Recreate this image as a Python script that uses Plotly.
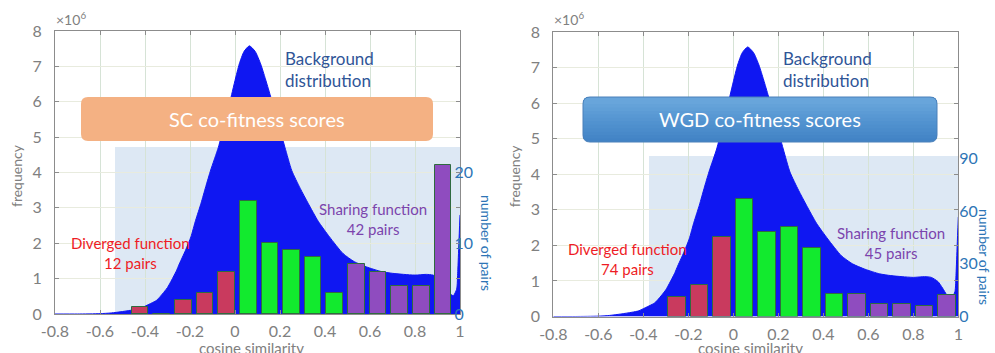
import plotly.graph_objects as go

W, H = 995, 353
FONT = "Lato"

# ---------------- data ----------------
# background distribution of cosine similarity (frequency, x10^6)
bg_x = [-0.80, -0.70, -0.60, -0.55, -0.50, -0.45, -0.42, -0.40, -0.35, -0.333, -0.30,
        -0.259, -0.25, -0.22, -0.196, -0.175, -0.151, -0.13, -0.108, -0.074, -0.05,
        -0.03, -0.015, 0.0, 0.019, 0.04, 0.064, 0.09, 0.114, 0.135, 0.156, 0.19,
        0.222, 0.252, 0.29, 0.325, 0.37, 0.42, 0.48, 0.53, 0.585, 0.65, 0.70, 0.75,
        0.80, 0.85, 0.88, 0.91, 0.93, 0.95, 0.97, 0.985, 0.99, 0.995, 1.0]
bg_y = [0.0, 0.0, 0.01, 0.03, 0.07, 0.12, 0.16, 0.22, 0.38, 0.49, 0.75,
        1.24, 1.38, 1.80, 2.18, 2.65, 3.13, 3.60, 4.07, 4.71, 5.30,
        5.80, 6.20, 6.60, 7.07, 7.42, 7.58, 7.42, 7.07, 6.65, 6.20, 5.45,
        4.71, 4.06, 3.55, 3.13, 2.62, 2.18, 1.71, 1.48, 1.33, 1.20, 1.15, 1.12,
        1.10, 1.12, 1.10, 0.98, 0.80, 0.60, 0.52, 0.70, 1.20, 2.00, 2.80]

sc_bins = [-0.45, -0.35, -0.25, -0.15, -0.05, 0.05, 0.15, 0.25, 0.35, 0.45,
           0.55, 0.65, 0.75, 0.85, 0.95]
sc_pairs = [1, 0, 2, 3, 6, 16, 10, 9, 8, 3, 7, 6, 4, 4, 21]

wgd_bins = [-0.25, -0.15, -0.05, 0.05, 0.15, 0.25, 0.35, 0.45, 0.55, 0.65, 0.75,
            0.85, 0.95]
wgd_pairs = [11, 18, 45, 67, 48, 51, 39, 13, 13, 7, 7, 6, 12]

x_tickvals = [-0.8, -0.6, -0.4, -0.2, 0, 0.2, 0.4, 0.6, 0.8, 1]
x_ticktext = ["-0.8", "-0.6", "-0.4", "-0.2", "0", "0.2", "0.4", "0.6", "0.8", "1"]
y_tickvals = [0, 1, 2, 3, 4, 5, 6, 7, 8]

sc_pair_ticks = [0, 5, 10, 15, 20]
sc_pair_text = ["0", "", "10", "", "20"]
wgd_pair_ticks = [0, 30, 60, 90]

# ---------------- styles ----------------
GRAY = "#808080"
AXLINE = "#8c8c8c"
BLUE_AREA = "#0f17f2"
SHADE = "#dde8f4"
RED_BAR = "#c93a5e"
GREEN_BAR = "#12ea2e"
PURPLE_BAR = "#8f4cbf"
BAR_EDGE = "#2f6b3f"
PAIR_BLUE = "#2e75b6"
CLEAR = "rgba(0,0,0,0)"


def bar_colors(bins):
    out = []
    for b in bins:
        if b < 0:
            out.append(RED_BAR)
        elif b < 0.5:
            out.append(GREEN_BAR)
        else:
            out.append(PURPLE_BAR)
    return out


def fx(p):
    return p / W


def fy(p):
    return 1 - p / H


fig = go.Figure()

# background distributions
for xa, ya in (("x", "y"), ("x2", "y2")):
    fig.add_trace(go.Scatter(x=bg_x, y=bg_y, mode="lines", fill="tozeroy",
                             line=dict(color=BLUE_AREA, width=1, shape="spline", smoothing=0.6),
                             fillcolor=BLUE_AREA, xaxis=xa, yaxis=ya, showlegend=False,
                             hoverinfo="skip"))

# pair bars
fig.add_trace(go.Bar(x=sc_bins, y=sc_pairs, width=0.077,
                     marker=dict(color=bar_colors(sc_bins), line=dict(color=BAR_EDGE, width=1)),
                     xaxis="x3", yaxis="y3", showlegend=False))
fig.add_trace(go.Bar(x=wgd_bins, y=wgd_pairs, width=0.078,
                     marker=dict(color=bar_colors(wgd_bins), line=dict(color=BAR_EDGE, width=1)),
                     xaxis="x4", yaxis="y4", showlegend=False))

# ---------------- axes ----------------
tickfont = dict(family=FONT, size=16, color=GRAY)


def main_x(dom_px):
    return dict(domain=[fx(dom_px[0]), fx(dom_px[1])], range=[-0.8, 1.0],
                tickvals=x_tickvals, ticktext=x_ticktext, tickfont=tickfont,
                ticks="inside", ticklen=4, tickcolor=AXLINE, showline=True,
                linecolor=AXLINE, linewidth=1, mirror="ticks", showgrid=True,
                gridcolor="#d6e3d6", gridwidth=1, zeroline=False, ticklabelstandoff=3,
                automargin=False)


def main_y(dom_px, anchor):
    return dict(domain=[fy(dom_px[1]), fy(dom_px[0])], range=[0, 8], anchor=anchor,
                tickvals=y_tickvals, tickfont=tickfont, ticks="inside", ticklen=4,
                tickcolor=AXLINE, showline=True, linecolor=AXLINE, linewidth=1,
                mirror="ticks", showgrid=True, gridcolor="#e8ebde", gridwidth=1,
                zeroline=False, ticklabelstandoff=9, automargin=False)


L_X = (55, 460)
L_Y = (31, 314)
R_X = (553.3, 958.3)
R_Y = (32, 316.5)

fig.update_layout(
    xaxis=main_x(L_X), yaxis=main_y(L_Y, "x"),
    xaxis2=main_x(R_X) | dict(anchor="y2"), yaxis2=main_y(R_Y, "x2"),
)

# left bar subplot (shaded box region)
LB_X = (115, 459.5)
LB_Y = (147, 314)
sc_scale = (443 - 140) / (sc_bins[-1] - sc_bins[0])
sc_left = sc_bins[0] - (140 - LB_X[0]) / sc_scale
sc_right = sc_left + (LB_X[1] - LB_X[0]) / sc_scale
fig.update_layout(
    xaxis3=dict(domain=[fx(LB_X[0]), fx(LB_X[1])], range=[sc_left, sc_right], anchor="y3",
                visible=False, showgrid=False, zeroline=False, automargin=False),
    yaxis3=dict(domain=[fy(LB_Y[1]), fy(LB_Y[0])], range=[0, (LB_Y[1] - LB_Y[0]) / 7.08],
                anchor="x3", side="right", tickvals=sc_pair_ticks, ticktext=sc_pair_text,
                ticks="inside", ticklen=4, tickcolor=AXLINE,
                tickfont=dict(family=FONT, size=16, color=PAIR_BLUE),
                showgrid=False, zeroline=False, showline=False, ticklabelstandoff=-6,
                automargin=False),
)

# right bar subplot
RB_X = (649, 958.3)
RB_Y = (156, 316.5)
fig.update_layout(
    xaxis4=dict(domain=[fx(RB_X[0]), fx(RB_X[1])],
                range=[-0.8 + (RB_X[0] - R_X[0]) / 225.0, 1.0], anchor="y4",
                visible=False, showgrid=False, zeroline=False, automargin=False),
    yaxis4=dict(domain=[fy(RB_Y[1]), fy(RB_Y[0])], range=[0, (RB_Y[1] - RB_Y[0]) / 1.76],
                anchor="x4", side="right", tickvals=wgd_pair_ticks, ticks="",
                tickfont=dict(family=FONT, size=16, color=PAIR_BLUE),
                showgrid=False, zeroline=False, showline=False, ticklabelstandoff=0,
                automargin=False),
)

# ---------------- shapes ----------------
shapes = []
# light-blue shaded area behind bars (below grid)
shapes.append(dict(type="rect", xref="x", yref="y", x0=-0.8 + (LB_X[0] - L_X[0]) / 225.0,
                   x1=1.0, y0=0, y1=(L_Y[1] - LB_Y[0]) / ((L_Y[1] - L_Y[0]) / 8.0),
                   fillcolor=SHADE, line=dict(width=0), layer="below"))
shapes.append(dict(type="rect", xref="x2", yref="y2", x0=-0.8 + (RB_X[0] - R_X[0]) / 225.0,
                   x1=1.0, y0=0, y1=(R_Y[1] - RB_Y[0]) / ((R_Y[1] - R_Y[0]) / 8.0),
                   fillcolor=SHADE, line=dict(width=0), layer="below"))


def rrect(x0, y0, x1, y1, r, top=True, bottom=True):
    rt = r if top else 0
    rb = r if bottom else 0
    p = f"M {fx(x0 + rt)},{fy(y0)} L {fx(x1 - rt)},{fy(y0)} "
    if rt:
        p += f"Q {fx(x1)},{fy(y0)} {fx(x1)},{fy(y0 + rt)} "
    p += f"L {fx(x1)},{fy(y1 - rb)} "
    if rb:
        p += f"Q {fx(x1)},{fy(y1)} {fx(x1 - rb)},{fy(y1)} "
    p += f"L {fx(x0 + rb)},{fy(y1)} "
    if rb:
        p += f"Q {fx(x0)},{fy(y1)} {fx(x0)},{fy(y1 - rb)} "
    p += f"L {fx(x0)},{fy(y0 + rt)} "
    if rt:
        p += f"Q {fx(x0)},{fy(y0)} {fx(x0 + rt)},{fy(y0)} "
    return p + "Z"


R = 7
# orange SC box
shapes.append(dict(type="path", xref="paper", yref="paper",
                   path=rrect(81, 97, 433, 141, R), fillcolor="#f4b183",
                   line=dict(width=0), layer="above"))

# blue WGD box with vertical gradient (dark bottom -> light top)
box = (583, 97, 937, 142)
grad = ["#4283c5", "#4586c7", "#4889c9", "#4b8ccb", "#4e8fcd", "#5192cf",
        "#5595d1", "#5898d3", "#5c9bd5", "#609fd7", "#64a2d9", "#68a5db"]
n = len(grad)
span = (box[3] - box[1]) - R
for k, col in enumerate(grad):
    yb = box[3] - k * span / (n - 1)
    shapes.append(dict(type="path", xref="paper", yref="paper",
                       path=rrect(box[0], box[1], box[2], yb, R, top=True, bottom=(k == 0)),
                       fillcolor=col, line=dict(width=0), layer="above"))
shapes.append(dict(type="path", xref="paper", yref="paper",
                   path=rrect(*box, R), fillcolor=CLEAR,
                   line=dict(width=1, color="#4a80ba"), layer="above"))

fig.update_layout(shapes=shapes)

# ---------------- annotations ----------------
ann = []


def text(s, xp, yp, size, color, xanchor="center", align="center", angle=0):
    ann.append(dict(text=s, x=fx(xp), y=fy(yp), xref="paper", yref="paper",
                    xanchor=xanchor, yanchor="middle", align=align, showarrow=False,
                    textangle=angle, font=dict(family=FONT, size=size, color=color)))


for off in (0, 498.3):
    text("×10<sup>6</sup>", 54 + off, 19, 14, GRAY, xanchor="left")
    text("Background<br>distribution", 283 + off, 69, 17, "#2f5597", xanchor="left", align="left")
    text("frequency", 17 + off, 176, 14, GRAY, angle=-90)
    text("cosine similarity", 252 + off, 348, 15, GRAY)

text("SC co-fitness scores", 257, 119, 20, "white")
text("WGD co-fitness scores", 760, 119.5, 20, "white")
text("Diverged function<br>12 pairs", 130, 253, 15, "#ee1c25")
text("Diverged function<br>74 pairs", 627, 259, 15, "#ee1c25")
text("Sharing function<br>42 pairs", 373, 219, 15, "#7b44ad")
text("Sharing function<br>45 pairs", 891, 243, 15, "#7b44ad")
text("number of pairs", 487, 243, 14, PAIR_BLUE, angle=90)
text("number of pairs", 985, 257, 14, PAIR_BLUE, angle=90)

fig.update_layout(
    annotations=ann,
    width=W, height=H, margin=dict(l=0, r=0, t=0, b=0, autoexpand=False),
    paper_bgcolor="white", plot_bgcolor=CLEAR,
    bargap=0, showlegend=False,
    font=dict(family=FONT),
)

fig.write_html("out.html", config={"displayModeBar": False},
               post_script="document.body.style.margin='0px';")
